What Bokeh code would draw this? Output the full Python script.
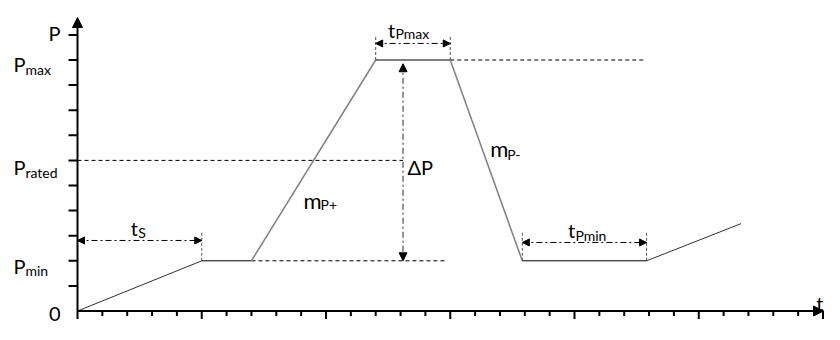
import numpy as np
from bokeh.plotting import figure
from bokeh.models import Range1d, Arrow, NormalHead, ColumnDataSource
from bokeh.core.properties import value
from bokeh.embed import file_html
from bokeh.resources import INLINE

# ---------------- data ----------------
# power profile breakpoints: time (tick units) and power (tick units)
profile_t = [0, 5, 7, 12, 15, 17.9, 22.9, 26.7]
profile_p = [0, 2, 2, 10, 10, 2, 2, 3.48]

P_MIN = 2
P_RATED = 6
P_MAX = 10

x_ticks = list(range(0, 31))
y_ticks = list(range(1, 12))

level_values = [P_MAX, P_RATED, P_MIN]
level_subs = ["max", "rated", "min"]

# time intervals marked with double arrows
interval_start = [0, 12, 17.9]
interval_end = [5, 15, 22.9]
interval_subs = ["S", "Pmax", "Pmin"]

DP_T = 13.1  # time where the ΔP arrow is drawn

# ---------------- layout constants ----------------
W, H = 824, 324
X0_PAGE, UX = 77.0, 24.85
Y0_PAGE, UY = 310.5, 25.1
FONT = value("Lato")

p = figure(width=W, height=H, output_backend="svg", toolbar_location=None,
           x_range=Range1d(-X0_PAGE / UX, (W - X0_PAGE) / UX),
           y_range=Range1d((Y0_PAGE - H) / UY, Y0_PAGE / UY),
           min_border=0)
p.axis.visible = False
p.grid.visible = False
p.outline_line_color = None
p.background_fill_color = "white"

# ---------------- axes ----------------
x_axis_end = (W - 1 - X0_PAGE) / UX
y_axis_end = (Y0_PAGE - 17) / UY
p.add_layout(Arrow(end=NormalHead(size=10, fill_color="black", line_color="black"),
                   x_start=0, y_start=0, x_end=x_axis_end, y_end=0,
                   line_width=2, line_color="black"))
p.add_layout(Arrow(end=NormalHead(size=10, fill_color="black", line_color="black"),
                   x_start=0, y_start=0, x_end=0, y_end=y_axis_end,
                   line_width=2, line_color="black"))
x_tick_len = [8 if t % 5 == 0 else 5 for t in x_ticks]
p.ray(x=x_ticks, y=[0] * len(x_ticks), length=x_tick_len, length_units="screen",
      angle=-np.pi / 2, line_width=2, line_color="black")
p.ray(x=[0] * len(y_ticks), y=y_ticks, length=9, length_units="screen",
      angle=np.pi, line_width=2, line_color="black")

# ---------------- reference dashed lines ----------------
p.segment(x0=[0, profile_t[2], profile_t[4]],
          x1=[DP_T, 14.85, 22.8],
          y0=[P_RATED, P_MIN, P_MAX], y1=[P_RATED, P_MIN, P_MAX],
          line_color="black", line_width=1, line_dash="4 3")

# vertical marker lines of the intervals
marker_tops = [3.13, 11.0, 3.13]
mx, my0, my1 = [], [], []
for s, e, top in zip(interval_start, interval_end, marker_tops):
    for t in (s, e):
        if t == 0:
            continue
        lvl = np.interp(t, profile_t, profile_p)
        mx.append(t); my0.append(lvl); my1.append(top)
p.segment(x0=mx, x1=mx, y0=my0, y1=my1, line_color="#555555", line_width=1,
          line_dash="3 2")

# ---------------- profile ----------------
seg_colors = ["#303030", "black", "#808080", "black", "#808080", "black", "#303030"]
seg_widths = [1, 1, 1.5, 1, 1.5, 1, 1]
p.segment(x0=profile_t[:-1], y0=profile_p[:-1], x1=profile_t[1:], y1=profile_p[1:],
          line_color=seg_colors, line_width=seg_widths)

# ---------------- double arrows ----------------
arrow_y = [2.81, 10.66, 2.73]
for s, e, ay in zip(interval_start, interval_end, arrow_y):
    p.add_layout(Arrow(start=NormalHead(size=7, fill_color="black", line_color="black"),
                       end=NormalHead(size=7, fill_color="black", line_color="black"),
                       x_start=s, y_start=ay, x_end=e, y_end=ay,
                       line_color="black", line_width=1, line_dash="6 3 2 3"))
p.add_layout(Arrow(start=NormalHead(size=8, fill_color="black", line_color="black"),
                   end=NormalHead(size=8, fill_color="black", line_color="black"),
                   x_start=DP_T, y_start=P_MAX - 0.15, x_end=DP_T, y_end=P_MIN,
                   line_color="#707070", line_width=1.5, line_dash="6 3 2 3"))

# ---------------- texts ----------------
main_x, main_y, main_t, main_xo, main_yo, main_al, main_fs = [], [], [], [], [], [], []
sub_x, sub_y, sub_t, sub_xo, sub_yo = [], [], [], [], []

def add_main(x, y, t, xo, yo, al="left", fs="20px"):
    main_x.append(x); main_y.append(y); main_t.append(t)
    main_xo.append(xo); main_yo.append(yo); main_al.append(al); main_fs.append(fs)

def add_sub(x, y, t, xo, yo):
    sub_x.append(x); sub_y.append(y); sub_t.append(t)
    sub_xo.append(xo); sub_yo.append(yo)

# axis names
add_main(0, y_ticks[-1], "P", -17, -2, "right")
add_main(0, 0, "0", -17, 2.5, "right")
add_main(x_axis_end, 0, "t", 0, -8, "right")

# level labels
lvl_yo = [4, 7, 5]
for lv, sb, yo in zip(level_values, level_subs, lvl_yo):
    add_main(0, lv, "P", -64, yo)
    add_sub(0, lv, sb, -52, yo + 5)

# interval labels
int_off = [(-9, -12, -1.5, -8), (-25, -13, -17.5, -10), (-16.5, -12, -9, -7)]
for s, e, ay, sb, (tx, ty, sx, sy) in zip(interval_start, interval_end, arrow_y,
                                          interval_subs, int_off):
    mid = (s + e) / 2
    add_main(mid, ay, "t", tx, ty)
    add_sub(mid, ay, sb, sx, sy)

# ramp rate labels
rise_mid = (profile_t[2] + profile_t[3]) / 2
fall_mid = (profile_t[4] + profile_t[5]) / 2
add_main(rise_mid, P_RATED, "m", -10, 40, "left", "22px")
add_sub(rise_mid, P_RATED, "P+", 7, 44)
add_main(fall_mid, P_RATED, "m", 4, -12, "left", "22px")
add_sub(fall_mid, P_RATED, "P-", 21, -6)

# delta P
add_main(DP_T, P_RATED, "ΔP", 4.5, 7)

p.text(source=ColumnDataSource(dict(x=main_x, y=main_y, text=main_t, xo=main_xo,
                                    yo=main_yo, al=main_al, fs=main_fs)),
       x="x", y="y", text="text", x_offset="xo", y_offset="yo", text_align="al",
       text_baseline="alphabetic", text_font=FONT, text_font_size="fs",
       text_color="black")
p.text(source=ColumnDataSource(dict(x=sub_x, y=sub_y, text=sub_t, xo=sub_xo, yo=sub_yo)),
       x="x", y="y", text="text", x_offset="xo", y_offset="yo", text_align="left",
       text_baseline="alphabetic", text_font=FONT, text_font_size="14px",
       text_color="black")

open("out.html", "w").write(file_html(p, INLINE))
